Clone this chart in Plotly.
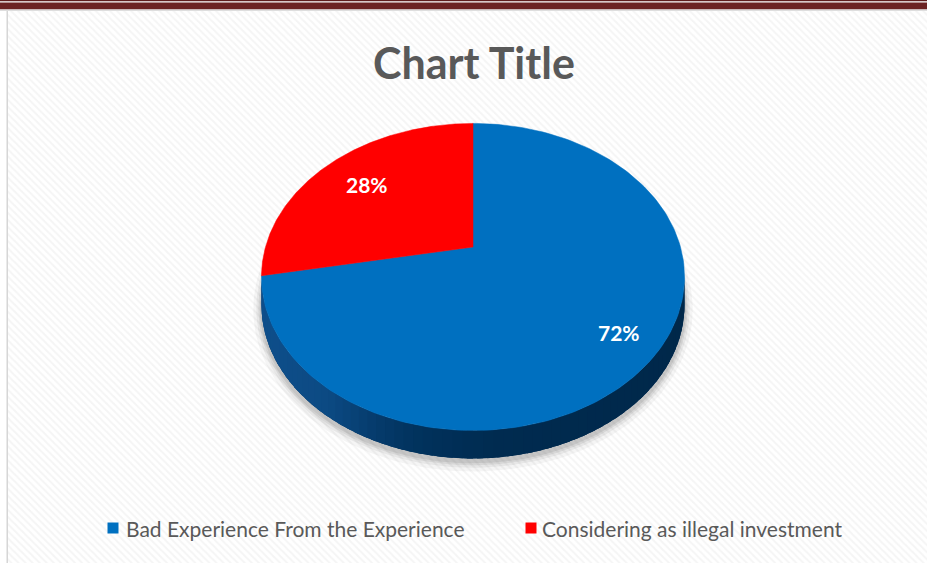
import numpy as np
import plotly.graph_objects as go

# ---------------- data ----------------
labels = ["Bad Experience From the Experience", "Considering as illegal investment"]
values = [72, 28]
colors = ["#0070C0", "#FF0000"]
title_text = "Chart Title"

# ---------------- geometry (pixel-space axes) ----------------
W, H = 927, 563
CX, CY = 473.0, 247.0      # projected pie centre (apex of slices)
SX, SY = 207.5, 147.7      # horizontal / vertical scale
K = 0.195                  # perspective factor
DEPTH = 28.0               # thickness of the 3-D side
LABEL_R = [0.82, 0.72]     # label radius per slice


def proj(theta, r=1.0):
    """theta: clockwise angle from 12 o'clock (radians)."""
    X = r * np.sin(theta)
    Z = r * np.cos(theta)
    d = 1 + K * Z
    return CX + SX * X / d, CY - SY * Z / d


def lerp_color(u):
    stops = [(-1.0, (14, 78, 138)), (-0.7, (12, 74, 131)), (-0.45, (5, 58, 106)),
             (-0.25, (1, 50, 92)), (0.1, (0, 43, 80)), (1.0, (0, 40, 74))]
    for (u0, c0), (u1, c1) in zip(stops[:-1], stops[1:]):
        if u <= u1:
            t = (u - u0) / (u1 - u0)
            t = min(max(t, 0), 1)
            c = [round(a + (b - a) * t) for a, b in zip(c0, c1)]
            return "rgb(%d,%d,%d)" % tuple(c)
    return "rgb(%d,%d,%d)" % stops[-1][1]


fig = go.Figure()

# hatched background
fig.add_trace(go.Bar(
    x=[(8 + W) / 2], y=[H - 11], base=[11], width=[W - 8],
    marker=dict(color="white", line=dict(width=0),
                pattern=dict(shape="\\", fgcolor="#ebebeb", bgcolor="white",
                             size=5, solidity=0.4)),
    hoverinfo="skip", showlegend=False))

# soft shadow under the pie
th = np.linspace(0, 2 * np.pi, 240)
for grow, op in [(8, 0.07), (5, 0.10), (3, 0.13), (1.5, 0.16)]:
    px, py = proj(th)
    sx = CX + (px - CX) * (1 + grow / SX)
    sy = (CY + DEPTH + 3) + (py - CY) * (1 + grow / SY)
    fig.add_trace(go.Scatter(x=sx, y=sy, fill="toself",
                             mode="lines", line=dict(width=0),
                             fillcolor="rgba(110,110,110,%.2f)" % op,
                             hoverinfo="skip", showlegend=False))

# 3-D side (front half of the disk)
tR = np.arccos(-K)
tL = 2 * np.pi - np.arccos(-K)
# base side polygon
ts = np.linspace(tR, tL, 300)
px, py = proj(ts)
fig.add_trace(go.Scatter(x=np.concatenate([px, px[::-1]]),
                         y=np.concatenate([py, py[::-1] + DEPTH]),
                         fill="toself", mode="lines", line=dict(width=0),
                         fillcolor="rgb(3,52,95)", hoverinfo="skip", showlegend=False))
edges = np.linspace(tR, tL, 71)
step = edges[1] - edges[0]
for a0, a1 in zip(edges[:-1], edges[1:]):
    ts = np.linspace(a0, min(a1 + step * 0.6, tL), 5)
    px, py = proj(ts)
    xs = np.concatenate([px, px[::-1]])
    ys = np.concatenate([py, py[::-1] + DEPTH])
    am = (a0 + a1) / 2
    umid = np.sin(am) / (1 + K * np.cos(am))
    col = lerp_color(umid)
    fig.add_trace(go.Scatter(x=xs, y=ys, fill="toself", mode="lines",
                             line=dict(width=0), fillcolor=col,
                             hoverinfo="skip", showlegend=False))

# top face slices
total = sum(values)
start = 0.0
label_pos = []
for i, (lab, v, c) in enumerate(zip(labels, values, colors)):
    frac = v / total
    a0, a1 = start * 2 * np.pi, (start + frac) * 2 * np.pi
    ts = np.linspace(a0, a1, 200)
    px, py = proj(ts)
    xs = np.concatenate([[CX], px, [CX]])
    ys = np.concatenate([[CY], py, [CY]])
    fig.add_trace(go.Scatter(x=xs, y=ys, fill="toself", mode="lines",
                             line=dict(width=0.5, color=c), fillcolor=c,
                             name=lab, hoverinfo="skip", showlegend=False))
    lx, ly = proj((a0 + a1) / 2, LABEL_R[i])
    label_pos.append((lx, ly, "%d%%" % round(frac * 100)))
    start += frac

annotations = []
for lx, ly, txt in label_pos:
    annotations.append(dict(x=lx, y=ly, text="<b>%s</b>" % txt, showarrow=False,
                            font=dict(family="Lato", size=21, color="white"),
                            xanchor="center", yanchor="middle"))

# title
annotations.append(dict(x=474, y=62, text="<b>%s</b>" % title_text, showarrow=False,
                        font=dict(family="Lato", size=43, color="#595959"),
                        xanchor="center", yanchor="middle"))

# legend (custom)
leg_sq_x = [113, 531]
leg_txt_x = [124, 540]
for i, (lab, c) in enumerate(zip(labels, colors)):
    fig.add_trace(go.Scatter(x=[leg_sq_x[i]], y=[528], mode="markers",
                             marker=dict(symbol="square", size=11, color=c,
                                         line=dict(width=0)),
                             hoverinfo="skip", showlegend=False))
    annotations.append(dict(x=leg_txt_x[i], y=528, text=lab, showarrow=False,
                            font=dict(family="Lato", size=21, color="#595959"),
                            xanchor="left", yanchor="middle"))

shapes = [
    # legend box
    dict(type="rect", x0=55, x1=892, y0=508, y1=551, xref="x", yref="y",
         fillcolor="white", line=dict(width=0), layer="below"),
    # top banner
    dict(type="rect", x0=0, x1=W, y0=0, y1=1.3, fillcolor="#5e1c1c",
         line=dict(width=0), layer="above"),
    dict(type="rect", x0=0, x1=W, y0=2.6, y1=9.6, fillcolor="#6b2222",
         line=dict(width=0), layer="above"),
    dict(type="rect", x0=0, x1=W, y0=9.6, y1=11, fillcolor="#dedede",
         line=dict(width=0), layer="above"),
    # left border
    dict(type="rect", x0=6.5, x1=8, y0=11, y1=H, fillcolor="#d6d6d6",
         line=dict(width=0), layer="above"),
]

fig.update_layout(
    width=W, height=H, margin=dict(l=0, r=0, t=0, b=0),
    paper_bgcolor="white", plot_bgcolor="white",
    xaxis=dict(range=[0, W], visible=False, fixedrange=True),
    yaxis=dict(range=[H, 0], visible=False, fixedrange=True),
    showlegend=False, annotations=annotations, shapes=shapes,
    bargap=0,
)

fig.write_html("out.html")
